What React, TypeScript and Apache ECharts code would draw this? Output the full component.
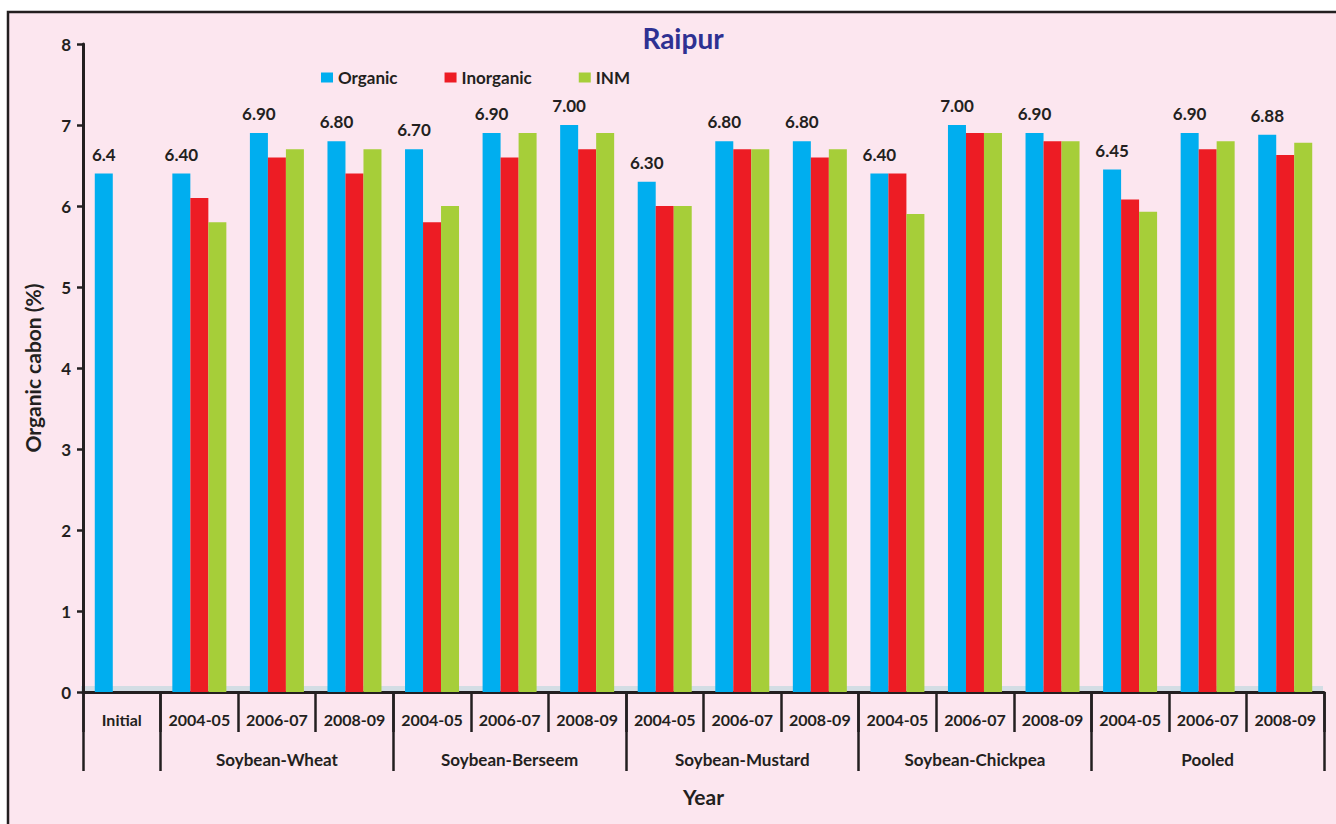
import React, { useEffect, useRef } from "react";
import * as echarts from "echarts";

// Year within each crop rotation (first column is the initial soil value)
const years = [
  "Initial",
  "2004-05", "2006-07", "2008-09",
  "2004-05", "2006-07", "2008-09",
  "2004-05", "2006-07", "2008-09",
  "2004-05", "2006-07", "2008-09",
  "2004-05", "2006-07", "2008-09",
];

// Crop rotation each column belongs to
const rotations = [
  "",
  "Soybean-Wheat", "Soybean-Wheat", "Soybean-Wheat",
  "Soybean-Berseem", "Soybean-Berseem", "Soybean-Berseem",
  "Soybean-Mustard", "Soybean-Mustard", "Soybean-Mustard",
  "Soybean-Chickpea", "Soybean-Chickpea", "Soybean-Chickpea",
  "Pooled", "Pooled", "Pooled",
];

// Organic carbon (%) by management system
const organic = [6.4, 6.4, 6.9, 6.8, 6.7, 6.9, 7.0, 6.3, 6.8, 6.8, 6.4, 7.0, 6.9, 6.45, 6.9, 6.88];
const inorganic = [null, 6.1, 6.6, 6.4, 5.8, 6.6, 6.7, 6.0, 6.7, 6.6, 6.4, 6.9, 6.8, 6.08, 6.7, 6.63];
const inm = [null, 5.8, 6.7, 6.7, 6.0, 6.9, 6.9, 6.0, 6.7, 6.7, 5.9, 6.9, 6.8, 5.93, 6.8, 6.78];

const yTicks = { min: 0, max: 8, interval: 1 };

const INK = "#231f20";
const FONT = "Lato";
const GRID = { left: 83, right: 12, top: 44, bottom: 132 };
const W = 1336;
const H = 824;

export default function App() {
  const ref = useRef<HTMLDivElement>(null);

  useEffect(() => {
    if (!ref.current) return;
    const chart = echarts.init(ref.current, null, { renderer: "svg" });

    const plotRight = W - GRID.right;
    const plotBottom = H - GRID.bottom;

    const option: any = {
      animation: false,
      backgroundColor: "#ffffff",
      textStyle: { fontFamily: FONT },
      graphic: [
        {
          type: "rect",
          z: -20,
          silent: true,
          shape: { x: 8, y: 12, width: W, height: H },
          style: { fill: "#fce6ef", stroke: INK, lineWidth: 2.5 },
        },
        {
          type: "rect",
          z: -10,
          silent: true,
          shape: { x: GRID.left - 2, y: plotBottom - 6, width: plotRight - GRID.left + 1, height: 6 },
          style: { fill: "#d3dde4" },
        },
      ],
      title: {
        text: "Raipur",
        left: 678,
        top: 19,
        textAlign: "center",
        textStyle: { color: "#2e3192", fontSize: 28, fontWeight: "bold", fontFamily: FONT },
      },
      legend: {
        left: 316,
        top: 64,
        itemWidth: 12,
        itemHeight: 10,
        itemGap: 47,
        icon: "rect",
        textStyle: { color: INK, fontSize: 17, fontWeight: "bold", fontFamily: FONT },
        data: ["Organic", "Inorganic", "INM"],
      },
      grid: { ...GRID },
      xAxis: [
        {
          type: "category",
          data: years,
          position: "bottom",
          axisLine: { show: true, lineStyle: { color: INK, width: 3 } },
          axisTick: { show: true, interval: 0, length: 40, lineStyle: { color: INK, width: 2.5 } },
          axisLabel: {
            interval: 0,
            margin: 19,
            color: INK,
            fontSize: 16,
            fontWeight: "bold",
            fontFamily: FONT,
          },
          splitLine: { show: false },
        },
        {
          type: "category",
          data: rotations,
          position: "bottom",
          name: "Year",
          nameLocation: "middle",
          nameGap: 94,
          nameTextStyle: { color: INK, fontSize: 21, fontWeight: "bold", fontFamily: FONT },
          axisLine: { show: false },
          axisTick: {
            show: true,
            interval: (i: number) => i === 0 || (i - 1) % 3 === 0,
            length: 79,
            lineStyle: { color: INK, width: 2.5 },
          },
          axisLabel: {
            interval: (i: number) => i > 0 && (i - 1) % 3 === 1,
            margin: 59,
            color: INK,
            fontSize: 17,
            fontWeight: "bold",
            fontFamily: FONT,
          },
          splitLine: { show: false },
        },
      ],
      yAxis: {
        type: "value",
        min: yTicks.min,
        max: yTicks.max,
        interval: yTicks.interval,
        name: "Organic cabon (%)",
        nameLocation: "middle",
        nameGap: 40,
        nameTextStyle: { color: INK, fontSize: 21, fontWeight: "bold", fontFamily: FONT },
        axisLine: { show: true, lineStyle: { color: INK, width: 3 } },
        axisTick: { show: true, length: 6, lineStyle: { color: INK, width: 2.5 } },
        axisLabel: { margin: 12, color: INK, fontSize: 17, fontWeight: "bold", fontFamily: FONT },
        splitLine: { show: false },
      },
      series: [
        {
          name: "Organic",
          type: "bar",
          data: organic,
          barWidth: 18,
          barGap: "0%",
          itemStyle: { color: "#00aeef" },
          label: {
            show: true,
            position: "top",
            distance: 11,
            color: INK,
            fontSize: 17,
            fontWeight: "bold",
            fontFamily: FONT,
            formatter: (p: any) => Number(p.value).toFixed(p.dataIndex === 0 ? 1 : 2),
          },
        },
        {
          name: "Inorganic",
          type: "bar",
          data: inorganic,
          barWidth: 18,
          barGap: "0%",
          itemStyle: { color: "#ed1c24" },
        },
        {
          name: "INM",
          type: "bar",
          data: inm,
          barWidth: 18,
          barGap: "0%",
          itemStyle: { color: "#a6ce39" },
        },
      ],
    };

    chart.setOption(option);
    return () => chart.dispose();
  }, []);

  return (
    <div
      ref={ref}
      style={{ position: "absolute", left: 0, top: 0, width: W, height: H }}
    />
  );
}
